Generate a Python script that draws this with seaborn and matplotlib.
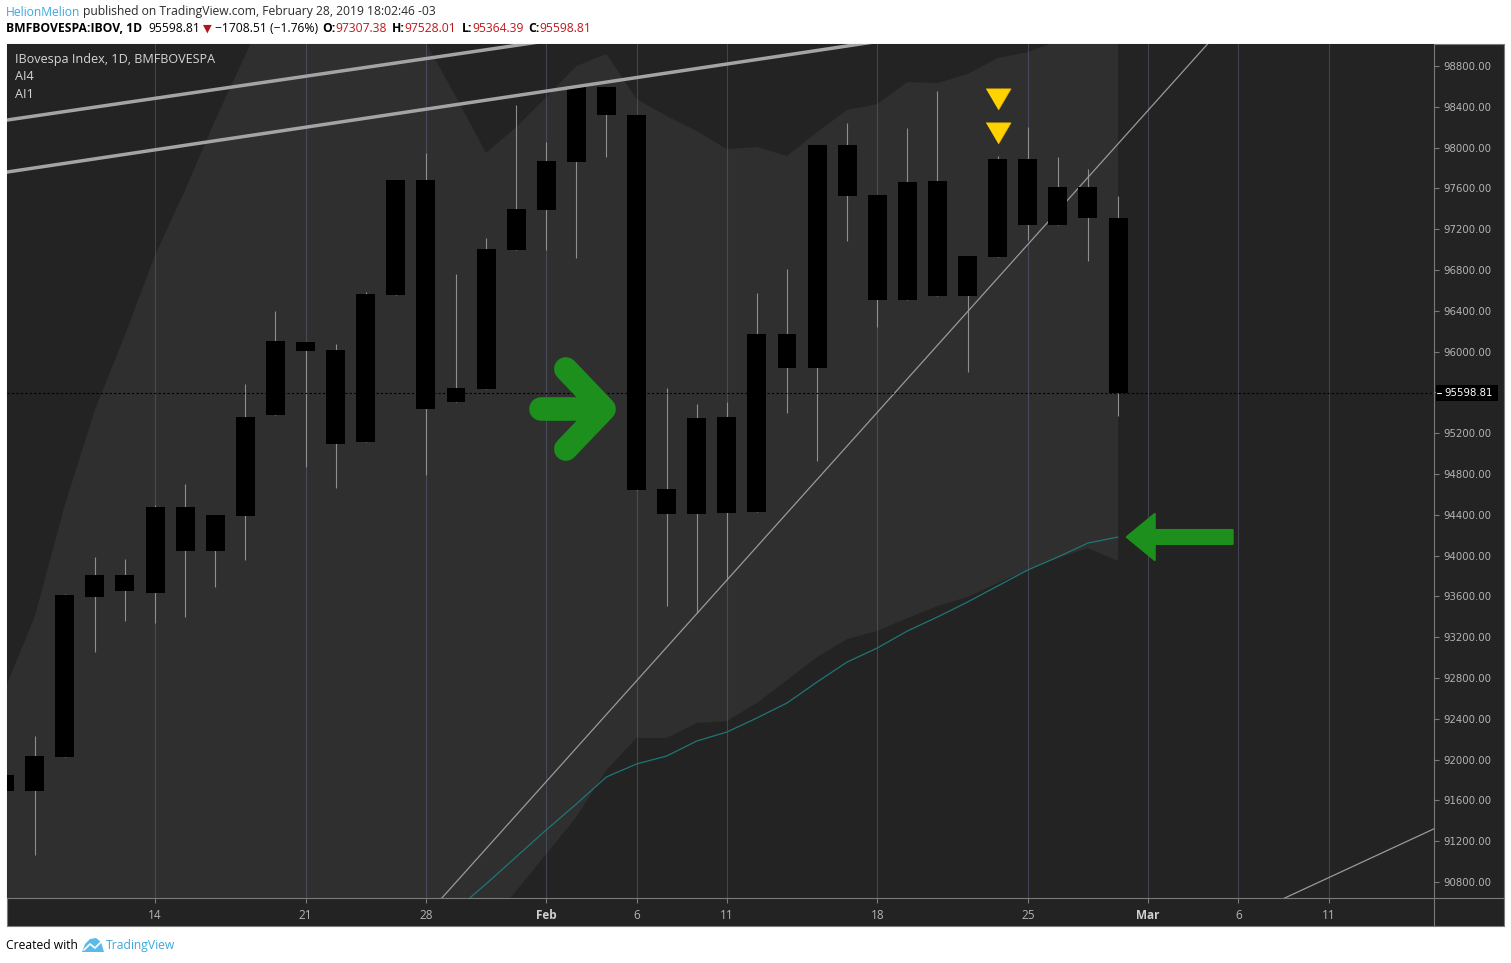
import matplotlib
matplotlib.use("Agg")
import matplotlib.pyplot as plt
from matplotlib.patches import Rectangle, Polygon
from matplotlib.lines import Line2D
import seaborn as sns

W, H = 1511, 963

# bar index 0 = Mon 14 Jan 2019, one step per trading session
bar_idx = list(range(-5, 33))
opens = [91849, 91692, 92025, 93594, 93810, 93633, 94476, 94045, 94388, 95378,
         96094, 96016, 95114, 96555, 97682, 95506, 95633, 96996, 97388, 97859,
         98594, 98320, 94653, 94408, 95359, 94427, 96173, 95839, 98025, 97535,
         96506, 97672, 96545, 96927, 97888, 97241, 97614, 97307.38]
highs = [91849, 92231, 93624, 93986, 93966, 94496, 94702, 94398, 95682, 96398,
         96094, 96075, 96584, 97682, 97947, 96761, 97114, 98418, 98055, 98594,
         98594, 98320, 95643, 95486, 95506, 96574, 96810, 98025, 98241, 97535,
         98192, 98555, 96937, 97918, 98202, 97908, 97790, 97528.01]
lows = [91692, 91065, 92025, 93055, 93359, 93339, 93398, 93692, 93957, 95378,
        94869, 94663, 95114, 96555, 94790, 95506, 95633, 96996, 96996, 96917,
        97908, 94643, 93506, 93437, 93761, 94427, 95398, 94928, 97084, 96241,
        96506, 96545, 95800, 96927, 97094, 97241, 96888, 95364.39]
closes = [91692, 92035, 93614, 93810, 93653, 94476, 94045, 94398, 95359, 96104,
          96006, 95094, 96565, 97682, 95437, 95643, 97006, 97398, 97869, 98594,
          98320, 94643, 94408, 95349, 94418, 96173, 95839, 98025, 97525, 96506,
          97663, 96545, 96937, 97888, 97241, 97614, 97307, 95598.81]

# shaded envelope (upper / lower edge per bar)
band_upper = [92682, 93398, 94496, 95427, 96162, 96947, 97584, 98271, 98908, 99545,
              99700, 99800, 99700, 99400, 99030, 98496, 97947, 98202, 98496, 98800,
              98918, 98476, 98310, 98163, 97986, 98006, 97918, 98153, 98369, 98427,
              98643, 98633, 98721, 98878, 98937, 99045, 99153, 99251]
band_lower = [88200, 88300, 88450, 88600, 88750, 88900, 89050, 89200, 89350, 89450,
              89550, 89650, 89750, 89850, 89930, 89990, 90350, 90712, 91075, 91437,
              91898, 92212, 92212, 92359, 92378, 92555, 92780, 93006, 93182, 93261,
              93388, 93506, 93594, 93731, 93859, 93976, 94074, 93947]

# teal average line
teal_idx = list(range(10, 33))
teal = [90526, 90781, 91046, 91311, 91565, 91830, 91957, 92035, 92182, 92270,
        92408, 92555, 92761, 92957, 93094, 93261, 93398, 93545, 93702, 93859,
        93986, 94123, 94182]

# drawn trend lines (bar index, price)
chan_a_x, chan_a_y = [-5, 13], [98267, 99046]
chan_b_x, chan_b_y = [-5, 24], [97757, 99041]
trend_x, trend_y = [9.4, 35.2], [90600, 99090]
trend2_x, trend2_y = [37.3, 42.6], [90610, 91335]

signal_idx = [28, 28]
signal_px = [98476, 98143]

date_ticks = [0, 5, 9, 13, 16, 19, 24, 29, 33, 36, 39]
date_labels = ["14", "21", "28", "Feb", "6", "11", "18", "25", "Mar", "6", "11"]
price_ticks = list(range(90800, 98801, 400))
last_close = 95598.81

sns.set_style("dark")
plt.rcParams["font.family"] = ["Open Sans", "DejaVu Sans"]

fig = plt.figure(figsize=(W / 100, H / 100), dpi=100)
fig.patch.set_facecolor("white")

# dark chart panel incl. axis strips
fig.add_artist(Rectangle((7 / W, 1 - 926 / H), (1504 - 7) / W, (926 - 44) / H,
                         transform=fig.transFigure, facecolor="#232323",
                         edgecolor="#7a7a7a", linewidth=0.8, zorder=-1))

ax = fig.add_axes([7 / W, 1 - 898 / H, (1434 - 7) / W, (898 - 44) / H])
ax.set_facecolor("#232323")
for s in ax.spines.values():
    s.set_visible(False)
ax.grid(False)

ax.fill_between(bar_idx, band_lower, band_upper, color="#2f2f2f", lw=0, zorder=0.5)
ax.vlines(date_ticks, 80000, 110000, color="#5d6380", alpha=0.5, lw=0.8, zorder=1)

# candles
body_lo = [min(o, c) for o, c in zip(opens, closes)]
body_h = [abs(c - o) for o, c in zip(opens, closes)]
ax.vlines(bar_idx, lows, highs, color="#8e8e8e", lw=0.8, zorder=2)
ax.bar(bar_idx, body_h, bottom=body_lo, width=0.63, color="black", lw=0, zorder=3)

sns.lineplot(x=teal_idx, y=teal, ax=ax, color="#1f7676", lw=0.9, zorder=2)
ax.plot(trend_x, trend_y, color="#9a9a9a", lw=0.9, zorder=2.5)
ax.plot(trend2_x, trend2_y, color="#9a9a9a", lw=0.9, zorder=2.5)
ax.plot(chan_a_x, chan_a_y, color="#a4a4a4", lw=2.5, zorder=4, solid_capstyle="butt")
ax.plot(chan_b_x, chan_b_y, color="#a4a4a4", lw=2.5, zorder=4, solid_capstyle="butt")
ax.axhline(last_close, color="black", lw=0.8, ls=(0, (2, 2)), zorder=4)

ax.plot(signal_idx, signal_px, ls="none",
        marker=[(-1, 0.85), (1, 0.85), (0, -0.85)], ms=18,
        mfc="#ffd200", mec="#e8b800", mew=0.5, zorder=5)

green = "#1c8f1c"
ax.plot([12.81, 14.78], [95437, 95437], color=green, lw=17,
        solid_capstyle="round", zorder=6)
ax.plot([13.65, 14.92, 13.65], [95830, 95437, 95045], color=green, lw=17,
        solid_capstyle="round", solid_joinstyle="round", zorder=6)
ax.add_patch(Polygon([(32.29, 94182), (33.22, 94408), (33.22, 94251), (35.81, 94251),
                      (35.81, 94114), (33.22, 94114), (33.22, 93957)],
                     closed=True, facecolor=green, edgecolor=green, lw=1.5,
                     joinstyle="round", zorder=6))

ax.set_xlim(-4.92, 42.5)
ax.set_ylim(90643, 99016)

ax.yaxis.tick_right()
ax.set_yticks(price_ticks, [f"{v:.2f}" for v in price_ticks])
ax.tick_params(axis="y", right=True, left=False, length=3.6, width=0.8,
               color="#7a7a7a", labelcolor="#b4b4b4", labelsize=7.3, pad=3)
for lbl in ax.get_yticklabels():
    lbl.set_family("DejaVu Sans")
ax.set_xticks(date_ticks, date_labels)
ax.tick_params(axis="x", bottom=True, length=3.6, width=0.8,
               color="#7a7a7a", labelcolor="#b4b4b4", labelsize=8.5, pad=4)
for lbl in ax.get_xticklabels():
    if lbl.get_text() in ("Feb", "Mar"):
        lbl.set_fontweight("bold")
        lbl.set_color("#d0d0d0")

# axis separators
fig.add_artist(Line2D([1434 / W, 1434 / W], [1 - 44 / H, 1 - 926 / H],
                      transform=fig.transFigure, color="#7a7a7a", lw=0.8))
fig.add_artist(Line2D([7 / W, 1504 / W], [1 - 898 / H, 1 - 898 / H],
                      transform=fig.transFigure, color="#7a7a7a", lw=0.8))

# last price box on the scale
y_last = ax.transData.transform((0, last_close))[1]
fig.add_artist(Rectangle((1436 / W, (y_last - 8) / H), 62 / W, 16 / H,
                         transform=fig.transFigure, facecolor="black", lw=0, zorder=5))
fig.add_artist(Line2D([1437 / W, 1441 / W], [y_last / H, y_last / H],
                      transform=fig.transFigure, color="white", lw=0.8, zorder=6))
fig.text(1444 / W, y_last / H, "95598.81", color="white", fontsize=7.3,
         family="DejaVu Sans", ha="left", va="center", zorder=6)

renderer = fig.canvas.get_renderer()


def put(xp, yp, s, **kw):
    return fig.text(xp / W, 1 - yp / H, s, ha="left", va="center", **kw)


def run(xp, yp, parts):
    # chain text pieces left to right, gap in pixels after each
    for s, kw, gap in parts:
        t = put(xp, yp, s, **kw)
        xp += t.get_window_extent(renderer).width + gap


# legend inside the chart
lg = dict(color="#d6d6d6", fontsize=9.1)
put(15, 60, "IBovespa Index, 1D, BMFBOVESPA", **lg)
put(15, 77, "AI4", **lg)
put(15, 94, "AI1", **lg)

# header
hs = 8.7
red = "#c0161b"
blk = dict(color="black", fontsize=hs)
bold = dict(color="black", fontsize=hs, fontweight="bold")
rv = dict(color=red, fontsize=hs)
run(6, 12, [("HelionMelion", dict(color="#3ea8dc", fontsize=hs), 3),
            ("published on TradingView.com, February 28, 2019 18:02:46 -03",
             dict(color="#2b2b2b", fontsize=hs), 0)])
run(6, 29, [("BMFBOVESPA:IBOV, 1D", bold, 6),
            ("95598.81", blk, 3),
            ("▼", dict(color="#b3141a", fontsize=hs - 0.5, family=["DejaVu Sans"]), 3),
            ("\u22121708.51 (\u22121.76%)", blk, 4),
            ("O:", bold, 0), ("97307.38", rv, 5),
            ("H:", bold, 0), ("97528.01", rv, 5),
            ("L:", bold, 0), ("95364.39", rv, 5),
            ("C:", bold, 0), ("95598.81", rv, 0)])

# footer
run(6, 945, [("Created with", blk, 0)])
fig.add_artist(Polygon([(82 / W, 1 - 952 / H), (85 / W, 1 - 944 / H), (90 / W, 1 - 939 / H),
                        (96 / W, 1 - 938 / H), (101 / W, 1 - 942 / H), (104 / W, 1 - 952 / H)],
                       closed=True, transform=fig.transFigure, facecolor="#5bbbe8", lw=0))
fig.add_artist(Line2D([84 / W, 90 / W, 95 / W, 102 / W], [1 - 950 / H, 1 - 944 / H, 1 - 948 / H, 1 - 941 / H],
                      transform=fig.transFigure, color="white", lw=1.2))
put(106, 945, "TradingView", color="#3ea8dc", fontsize=hs)

fig.savefig("out.png", dpi=100, facecolor=fig.get_facecolor())
